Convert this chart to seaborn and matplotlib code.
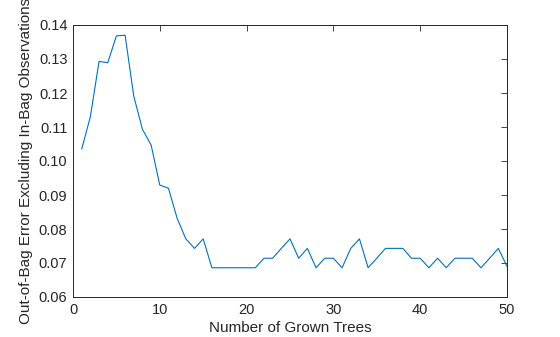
import matplotlib
matplotlib.use("Agg")
import matplotlib.pyplot as plt
import seaborn as sns
import pandas as pd

trees = list(range(1, 51))
oob_error = [0.1035, 0.1130, 0.1293, 0.1289, 0.1368, 0.1370, 0.1191, 0.1093, 0.1047, 0.0929,
             0.0920, 0.0831, 0.0771, 0.0743, 0.0771, 0.0686, 0.0686, 0.0686, 0.0686, 0.0686,
             0.0686, 0.0714, 0.0714, 0.0743, 0.0771, 0.0714, 0.0743, 0.0686, 0.0714, 0.0714,
             0.0686, 0.0743, 0.0771, 0.0686, 0.0714, 0.0743, 0.0743, 0.0743, 0.0714, 0.0714,
             0.0686, 0.0714, 0.0686, 0.0714, 0.0714, 0.0714, 0.0686, 0.0714, 0.0743, 0.0690]
xticks = [0, 10, 20, 30, 40, 50]
yticks = [0.06, 0.07, 0.08, 0.09, 0.10, 0.11, 0.12, 0.13, 0.14]

sns.set_style("white")
plt.rcParams['font.family'] = ['Liberation Sans', 'DejaVu Sans']

df = pd.DataFrame({"trees": trees, "err": oob_error})

fig = plt.figure(figsize=(5.6, 3.37), dpi=100)
ax = fig.add_axes([73/560, 1 - 297/337, (507-73)/560, (297-25)/337])
sns.lineplot(data=df, x="trees", y="err", ax=ax, color="#0072BD", linewidth=0.8)

ax.set_xlim(0, 50)
ax.set_ylim(0.06, 0.14)
ax.set_xticks(xticks)
ax.set_xticklabels([str(t) for t in xticks])
ax.set_yticks(yticks)
ax.set_yticklabels([f"{t:.2f}" for t in yticks])
ax.tick_params(direction="in", length=4, width=0.6, colors="#262626", labelsize=10.5,
               top=True, right=True, pad=4)
for s in ax.spines.values():
    s.set_color("#262626")
    s.set_linewidth(0.7)
    s.set_visible(True)
ax.set_xlabel("Number of Grown Trees", fontsize=11, color="#262626", labelpad=3)
ax.set_ylabel("Out-of-Bag Error Excluding In-Bag Observations", fontsize=11,
              color="#262626", labelpad=4)

fig.savefig("out.png", dpi=100, facecolor="white")
